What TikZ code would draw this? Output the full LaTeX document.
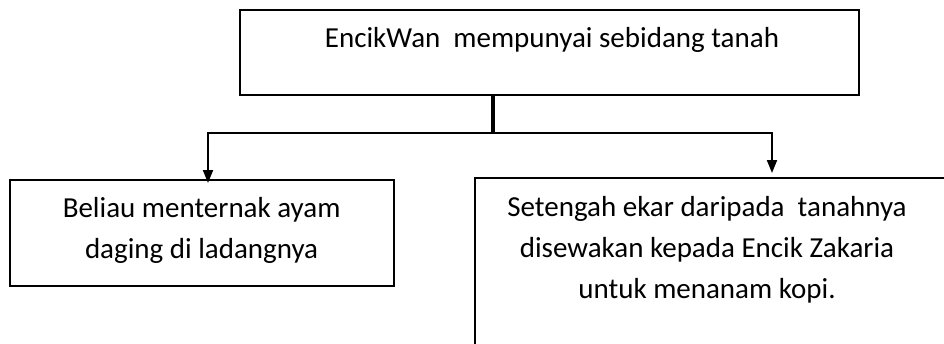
\documentclass[tikz,border=0pt]{standalone}
\usepackage{fontspec}
\setmainfont{Carlito}
\usetikzlibrary{arrows.meta}
\tikzset{
  boxnode/.style={draw=black, line width=2pt, rectangle, inner sep=0pt},
  txt/.style={align=center, inner sep=0pt, font=\fontsize{29}{41}\selectfont},
  conn/.style={draw=black, line width=2pt},
  tipconn/.style={conn, -{Triangle[width=10pt,length=13pt]}},
}
\begin{document}
\begin{tikzpicture}[x=1pt,y=-1pt]
\useasboundingbox (0,0) rectangle (944,343);
\clip (0,0) rectangle (944,343);
\fill[white] (0,0) rectangle (944,343);
% boxes
\node[boxnode, minimum width=619pt, minimum height=85pt] (top) at (549.5,52.5) {};
\node[boxnode, minimum width=384pt, minimum height=106pt] (lbox) at (201.5,233) {};
\node[boxnode, minimum width=600pt, minimum height=300pt] (rbox) at (775,328) {};
% texts
\node[txt, anchor=base] (ttext) at (552,47) {EncikWan\ \ mempunyai sebidang tanah};
\node[txt, anchor=base] (ltext) at (201.6,258) {Beliau menternak ayam\\daging di ladangnya};
\node[txt, anchor=base] (rtext) at (707,298) {Setengah ekar daripada\ \ tanahnya\\disewakan kepada Encik Zakaria\\untuk menanam kopi.};
% connectors
\coordinate (j) at (493,133);
\coordinate (la) at (208,183);
\coordinate (ra) at (772,173);
\draw[conn, line width=4pt] (j |- top.south) -- (j);
\draw[tipconn] (j) -| (la);
\draw[tipconn] (j) -| (ra);
\end{tikzpicture}
\end{document}
